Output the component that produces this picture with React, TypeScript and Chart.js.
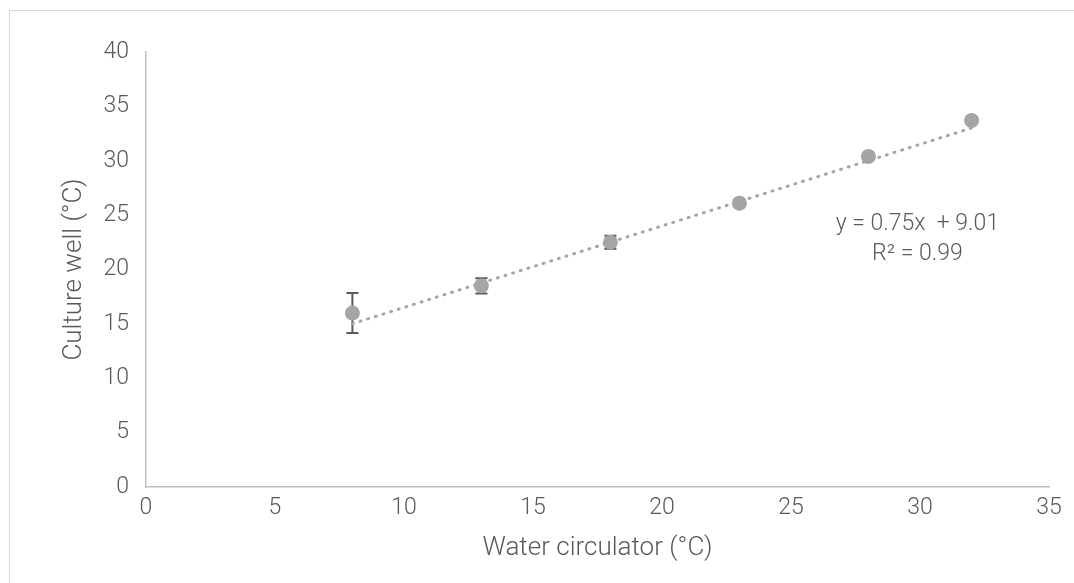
import React, { useEffect, useRef } from "react";
import { Chart, registerables } from "chart.js";

Chart.register(...registerables);

const waterTemps = [8, 13, 18, 23, 28, 32];
const wellTemps = [16.0, 18.5, 22.5, 26.1, 30.4, 33.7];
const wellErrors = [1.85, 0.7, 0.6, 0.3, 0.3, 0.3];
const trendX = [8, 32];
const trendY = [15.01, 33.01];
const equationLines = ["y = 0.75x  + 9.01", "R² = 0.99"];
const xTitle = "Water circulator (°C)";
const yTitle = "Culture well (°C)";

const FONT = "Roboto, 'Noto Sans', sans-serif";
const TEXT = "#595959";

const errorBarPlugin = {
  id: "errorBars",
  beforeDatasetsDraw(chart: any) {
    const { ctx, scales } = chart;
    const x = scales.x;
    const y = scales.y;
    ctx.save();
    ctx.strokeStyle = "#595959";
    ctx.lineWidth = 2;
    waterTemps.forEach((xv, i) => {
      const px = x.getPixelForValue(xv);
      const top = y.getPixelForValue(wellTemps[i] + wellErrors[i]);
      const bot = y.getPixelForValue(wellTemps[i] - wellErrors[i]);
      ctx.beginPath();
      ctx.moveTo(px, top);
      ctx.lineTo(px, bot);
      ctx.moveTo(px - 6, top);
      ctx.lineTo(px + 6, top);
      ctx.moveTo(px - 6, bot);
      ctx.lineTo(px + 6, bot);
      ctx.stroke();
    });
    ctx.restore();
  },
};

const equationPlugin = {
  id: "equation",
  afterDatasetsDraw(chart: any) {
    const { ctx, scales } = chart;
    const cx = scales.x.getPixelForValue(29.9);
    const cy = scales.y.getPixelForValue(24.2);
    ctx.save();
    ctx.fillStyle = TEXT;
    ctx.font = `300 23px ${FONT}`;
    ctx.textAlign = "center";
    ctx.textBaseline = "middle";
    equationLines.forEach((line, i) => {
      ctx.fillText(line, cx, cy + i * 30);
    });
    ctx.restore();
  },
};

export default function App() {
  const ref = useRef<HTMLCanvasElement | null>(null);
  useEffect(() => {
    if (!ref.current) return;
    const chart = new Chart(ref.current, {
      type: "scatter",
      data: {
        datasets: [
          {
            label: "Culture well",
            data: waterTemps.map((x, i) => ({ x, y: wellTemps[i] })),
            backgroundColor: "#a5a5a5",
            borderColor: "#a5a5a5",
            pointRadius: 7.5,
            pointBorderWidth: 0,
            order: 1,
          },
          {
            type: "line",
            label: "Trend",
            data: trendX.map((x, i) => ({ x, y: trendY[i] })),
            borderColor: "#a5a5a5",
            borderWidth: 3,
            borderDash: [1, 7],
            borderCapStyle: "round",
            pointRadius: 0,
            fill: false,
            order: 2,
          } as any,
        ],
      },
      options: {
        animation: false,
        responsive: false,
        maintainAspectRatio: false,
        layout: { padding: { top: 41, right: 25, left: 0, bottom: 0 } },
        plugins: {
          legend: { display: false },
          tooltip: { enabled: false },
        },
        scales: {
          x: {
            type: "linear",
            min: 0,
            max: 35,
            ticks: { stepSize: 5, color: TEXT, font: { family: FONT, size: 23, weight: "300" }, padding: 7 },
            grid: { display: true, drawOnChartArea: false, drawTicks: false, color: "#d9d9d9" },
            border: { color: "#bfbfbf", width: 1.5 },
            title: {
              display: true,
              text: xTitle,
              color: TEXT,
              font: { family: FONT, size: 26, weight: "300" },
              padding: { top: 0, bottom: 19 },
            },
            afterFit: (s: any) => {
              s.height = 96;
            },
          },
          y: {
            type: "linear",
            min: 0,
            max: 40,
            ticks: { stepSize: 5, color: TEXT, font: { family: FONT, size: 23, weight: "300" }, padding: 17 },
            grid: { display: true, drawOnChartArea: false, drawTicks: false, color: "#d9d9d9" },
            border: { color: "#bfbfbf", width: 1.5 },
            title: {
              display: true,
              text: yTitle,
              color: TEXT,
              font: { family: FONT, size: 26, weight: "300" },
              padding: { top: 49, bottom: 0 },
            },
            afterFit: (s: any) => {
              s.width = 136;
            },
          },
        },
      },
      plugins: [errorBarPlugin, equationPlugin],
    });
    return () => chart.destroy();
  }, []);

  return (
    <div
      style={{
        position: "fixed",
        left: 9,
        top: 10,
        width: 1100,
        height: 620,
        border: "1px solid #d9d9d9",
        background: "#fff",
      }}
    >
      <canvas ref={ref} width={1064} height={572} style={{ display: "block" }} />
    </div>
  );
}
